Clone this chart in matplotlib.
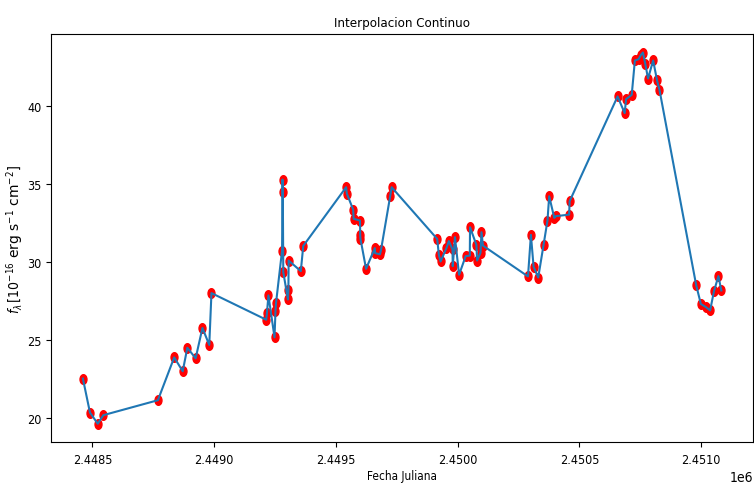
import numpy as np
import matplotlib
matplotlib.use("Agg")
import matplotlib.pyplot as plt
from matplotlib.path import Path

# Julian dates and fluxes
fecha = [
    2448461, 2448490, 2448522, 2448545, 2448769, 2448836, 2448871, 2448890,
    2448924, 2448952, 2448980, 2448989, 2449214, 2449217, 2449223, 2449248,
    2449252, 2449254, 2449279, 2449281, 2449282, 2449284, 2449303, 2449305,
    2449306, 2449356, 2449366, 2449542, 2449545, 2449571, 2449573, 2449599,
    2449600, 2449601, 2449624, 2449660, 2449661, 2449681, 2449685, 2449723,
    2449729, 2449916, 2449923, 2449930, 2449954, 2449964, 2449979, 2449980,
    2449989, 2450006, 2450033, 2450050, 2450051, 2450077, 2450080, 2450094,
    2450098, 2450104, 2450289, 2450301, 2450312, 2450331, 2450353, 2450369,
    2450376, 2450397, 2450403, 2450458, 2450460, 2450657, 2450686, 2450692,
    2450715, 2450728, 2450743, 2450753, 2450761, 2450771, 2450782, 2450803,
    2450819, 2450829, 2450980, 2450999, 2451019, 2451037, 2451053, 2451071,
    2451083,
]
flujo = [
    22.52, 20.34, 19.62, 20.17, 21.13, 23.88, 22.99, 24.50,
    23.82, 25.77, 24.68, 28.01, 26.30, 26.75, 27.86, 25.17,
    26.88, 27.35, 30.74, 35.30, 34.53, 29.36, 27.60, 28.18,
    30.10, 29.42, 31.04, 34.81, 34.40, 33.37, 32.78, 32.67,
    31.71, 31.49, 29.57, 30.90, 30.58, 30.50, 30.75, 34.23,
    34.81, 31.49, 30.47, 30.04, 30.90, 31.35, 30.81, 29.74,
    31.60, 29.19, 30.38, 30.42, 32.24, 31.11, 30.10, 30.60,
    31.92, 31.06, 29.08, 31.75, 29.70, 29.01, 31.11, 32.67,
    34.23, 32.84, 32.95, 33.05, 33.91, 40.64, 39.57, 40.47,
    40.74, 42.95, 43.03, 43.31, 43.46, 42.71, 41.79, 42.95,
    41.67, 41.06, 28.50, 27.31, 27.12, 26.90, 28.14, 29.10,
    28.18,
]

titulo = "Interpolacion Continuo"
etiqueta_x = "Fecha Juliana"
etiqueta_y = r"$f_\lambda\,[10^{-16}$ erg s$^{-1}$ cm$^{-2}]$"

plt.rcParams['font.family'] = ['DejaVu Sans']
plt.rcParams['font.stretch'] = 'condensed'

fig = plt.figure(figsize=(7.54, 4.85), dpi=100)
ax = fig.add_axes([0.0676, 0.0860, 0.9314, 0.8419])

# slightly narrow ellipse marker, as in the reference
circ = Path.unit_circle()
verts = circ.vertices.copy()
verts[:, 0] *= 0.72
marcador = Path(verts, circ.codes)

ax.scatter(fecha, flujo, color='red', marker=marcador, s=48)
ax.plot(fecha, flujo, color='#1f77b4', lw=1.5)

ax.set_title(titulo, fontsize=9.5)
ax.set_xlabel(etiqueta_x, fontsize=8.5, va='top')
ax.xaxis.set_label_coords(0.5, -0.066)
ax.set_ylabel(etiqueta_y, fontsize=10, fontstretch='normal')
ax.yaxis.set_label_coords(-0.036, 0.5)
ax.tick_params(labelsize=9)
ax.tick_params(axis='x', pad=4.2)

fig.savefig("out.png", dpi=100)
